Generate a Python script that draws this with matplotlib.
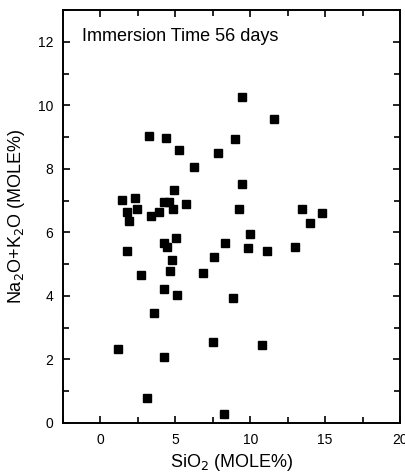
import matplotlib
matplotlib.use("Agg")
import matplotlib.pyplot as plt
from matplotlib.ticker import MultipleLocator

# SiO2 and Na2O+K2O (mole %)
sio2 = [1.43, 1.79, 1.90, 2.28, 2.46, 3.24, 3.35, 3.88, 4.24, 4.37,
        4.58, 4.89, 4.85, 5.25, 5.69, 6.25, 7.88, 8.97, 9.28, 9.46,
        9.46, 10.0, 11.56, 13.45, 14.02, 14.77,
        1.77, 4.22, 4.46, 5.07, 4.75, 4.62, 2.72, 4.22, 5.11, 3.59,
        1.14, 4.22, 3.10, 8.26, 7.50, 10.78, 8.84, 6.83, 7.59, 8.33,
        9.87, 11.14, 12.99]
alkali = [7.02, 6.64, 6.36, 7.09, 6.75, 9.03, 6.50, 6.63, 6.97, 8.98,
          6.95, 7.32, 6.74, 8.58, 6.88, 8.05, 8.51, 8.94, 6.72, 10.26,
          7.51, 5.96, 9.58, 6.75, 6.30, 6.61,
          5.41, 5.66, 5.53, 5.82, 5.12, 4.78, 4.65, 4.23, 4.02, 3.45,
          2.34, 2.08, 0.80, 0.28, 2.54, 2.47, 3.93, 4.72, 5.24, 5.68,
          5.51, 5.41, 5.53]

title_text = "Immersion Time 56 days"

plt.rcParams['font.family'] = ['Liberation Sans', 'DejaVu Sans']

fig = plt.figure(figsize=(4.05, 4.75), dpi=100)
ax = fig.add_axes([0.1556, 0.1095, 0.8321, 0.8695])

ax.plot(sio2, alkali, linestyle='none', marker='s', markersize=5.6,
        color='black', markeredgecolor='black')

ax.set_xlim(-2.5, 20)
ax.set_ylim(0, 13)
ax.xaxis.set_major_locator(MultipleLocator(5))
ax.xaxis.set_minor_locator(MultipleLocator(2.5))
ax.yaxis.set_major_locator(MultipleLocator(2))
ax.yaxis.set_minor_locator(MultipleLocator(1))

ax.tick_params(which='both', direction='in', top=True, right=True,
               width=1.2, labelsize=10)
ax.tick_params(which='major', length=5, pad=7)
ax.tick_params(which='minor', length=4)
for s in ax.spines.values():
    s.set_linewidth(1.4)

ax.text(0.055, 0.935, title_text, transform=ax.transAxes, fontsize=13,
        va='center', ha='left')

ax.set_xlabel("SiO$_2$ (MOLE%)", fontsize=13, labelpad=4)
ax.set_ylabel("Na$_2$O+K$_2$O (MOLE%)", fontsize=13, labelpad=8)

fig.savefig("out.png", dpi=100)
